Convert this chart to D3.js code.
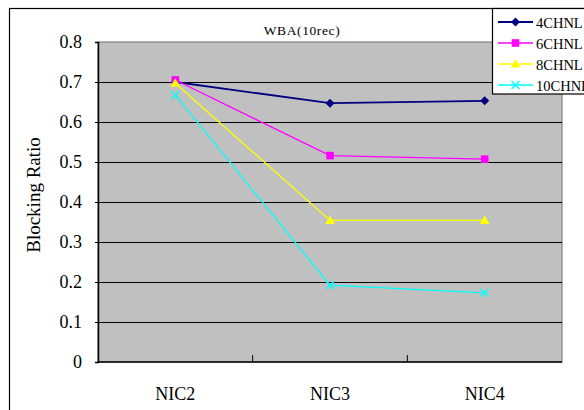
<!DOCTYPE html>
<html>
<head>
<meta charset="utf-8">
<script src="https://cdn.jsdelivr.net/npm/d3@7"></script>
<style>
  html, body { margin: 0; padding: 0; background: #fff; }
  svg { display: block; }
</style>
</head>
<body>
<svg id="chart" width="584" height="410" font-family="'Liberation Serif', 'Times New Roman', serif"></svg>
<script>
// Blocking ratio per NIC configuration for each channel count
const categories = ["NIC2", "NIC3", "NIC4"];
const seriesNames = ["4CHNL", "6CHNL", "8CHNL", "10CHNL"];
const values4 = [0.700, 0.647, 0.653];
const values6 = [0.705, 0.516, 0.507];
const values8 = [0.697, 0.354, 0.354];
const values10 = [0.667, 0.192, 0.173];
const yTicks = [0, 0.1, 0.2, 0.3, 0.4, 0.5, 0.6, 0.7, 0.8];
const chartTitle = "WBA(10rec)";
const yTitle = "Blocking Ratio";

const SERIF = "'Liberation Serif', 'Times New Roman', serif";

const series = [
  { name: seriesNames[0], values: values4, color: "#000080", marker: "diamond", width: 1.8 },
  { name: seriesNames[1], values: values6, color: "#FF00FF", marker: "square", width: 1.3 },
  { name: seriesNames[2], values: values8, color: "#FFFF00", marker: "triangle", width: 1.3 },
  { name: seriesNames[3], values: values10, color: "#00FFFF", marker: "x", width: 1.3 }
];

const svg = d3.select("#chart");
const plot = { left: 98, right: 562, top: 42, bottom: 362 };

const x = d3.scaleBand().domain(categories).range([plot.left, plot.right]);
const y = d3.scaleLinear().domain([0, 0.8]).range([plot.bottom, plot.top]);

// outer chart frame (extends past the visible edges)
svg.append("rect")
  .attr("x", 9.5).attr("y", 8.5).attr("width", 600).attr("height", 420)
  .attr("fill", "#fff").attr("stroke", "#000").attr("stroke-width", 1.2);

// plot background
svg.append("rect")
  .attr("x", plot.left).attr("y", plot.top)
  .attr("width", plot.right - plot.left).attr("height", plot.bottom - plot.top)
  .attr("fill", "#C0C0C0").attr("stroke", "#808080").attr("stroke-width", 1.2);

// horizontal gridlines
svg.append("g").selectAll("line")
  .data(yTicks.filter(v => v > 0 && v < 0.8))
  .join("line")
  .attr("x1", plot.left).attr("x2", plot.right)
  .attr("y1", d => Math.round(y(d)) + 0.5).attr("y2", d => Math.round(y(d)) + 0.5)
  .attr("stroke", "#000").attr("stroke-width", 1);

// y axis
const yAxis = d3.axisLeft(y).tickValues(yTicks).tickSize(3).tickFormat(d3.format("~g"));
const gy = svg.append("g").attr("transform", `translate(${plot.left},0)`).call(yAxis)
  .attr("font-family", SERIF).attr("font-size", 18);
gy.select(".domain").attr("stroke", "#000").attr("stroke-width", 1.5);
gy.selectAll(".tick line").attr("stroke", "#000");
gy.selectAll(".tick text")
  .attr("x", -16).attr("dy", "0.32em")
  .attr("font-family", SERIF).attr("font-size", 18).attr("fill", "#000");

// x axis: baseline, ticks between categories pointing inward, centred labels
svg.append("line")
  .attr("x1", plot.left).attr("x2", plot.right)
  .attr("y1", plot.bottom).attr("y2", plot.bottom)
  .attr("stroke", "#000").attr("stroke-width", 1.5);
svg.append("g").selectAll("line")
  .data(categories.slice(1))
  .join("line")
  .attr("x1", d => x(d)).attr("x2", d => x(d))
  .attr("y1", plot.bottom).attr("y2", plot.bottom - 7)
  .attr("stroke", "#000").attr("stroke-width", 1);
svg.append("g").selectAll("text")
  .data(categories)
  .join("text")
  .attr("x", d => x(d) + x.bandwidth() / 2)
  .attr("y", 400)
  .attr("text-anchor", "middle")
  .attr("font-family", SERIF).attr("font-size", 18)
  .text(d => d);

// titles
svg.append("text")
  .attr("x", 302).attr("y", 35)
  .attr("text-anchor", "middle")
  .attr("font-family", SERIF).attr("font-size", 13.5).attr("letter-spacing", 0.6)
  .text(chartTitle);
svg.append("text")
  .attr("transform", "translate(40,195) rotate(-90)")
  .attr("text-anchor", "middle")
  .attr("font-family", SERIF).attr("font-size", 19)
  .text(yTitle);

// marker shapes
function drawMarker(g, type, color) {
  if (type === "diamond") {
    g.append("path").attr("d", "M0,-4.5L4.5,0L0,4.5L-4.5,0Z").attr("fill", color);
  } else if (type === "square") {
    g.append("rect").attr("x", -3.8).attr("y", -3.8).attr("width", 7.6).attr("height", 7.6).attr("fill", color);
  } else if (type === "triangle") {
    g.append("path").attr("d", "M0,-5L4.8,3.5L-4.8,3.5Z").attr("fill", color);
  } else {
    g.append("path").attr("d", "M-4,-4L4,4M-4,4L4,-4").attr("stroke", color).attr("stroke-width", 1.5).attr("fill", "none");
  }
}

const cx = d => x(d) + x.bandwidth() / 2;
const line = d3.line().x((v, i) => cx(categories[i])).y(v => y(v));

series.forEach(s => {
  svg.append("path")
    .datum(s.values)
    .attr("d", line)
    .attr("fill", "none")
    .attr("stroke", s.color)
    .attr("stroke-width", s.width);
  s.values.forEach((v, i) => {
    const g = svg.append("g").attr("transform", `translate(${cx(categories[i])},${y(v)})`);
    drawMarker(g, s.marker, s.color);
  });
});

// legend box
const legend = svg.append("g");
legend.append("rect")
  .attr("x", 492.5).attr("y", 8.5).attr("width", 120).attr("height", 85.5)
  .attr("fill", "#fff").attr("stroke", "#000").attr("stroke-width", 1.2);
series.forEach((s, i) => {
  const ly = 22 + i * 21;
  legend.append("line")
    .attr("x1", 498).attr("x2", 533).attr("y1", ly).attr("y2", ly)
    .attr("stroke", s.color).attr("stroke-width", s.width);
  const g = legend.append("g").attr("transform", `translate(515.5,${ly})`);
  drawMarker(g, s.marker, s.color);
  legend.append("text")
    .attr("x", 536).attr("y", ly + 5.5)
    .attr("font-family", SERIF).attr("font-size", 14.5)
    .text(s.name);
});
</script>
</body>
</html>
